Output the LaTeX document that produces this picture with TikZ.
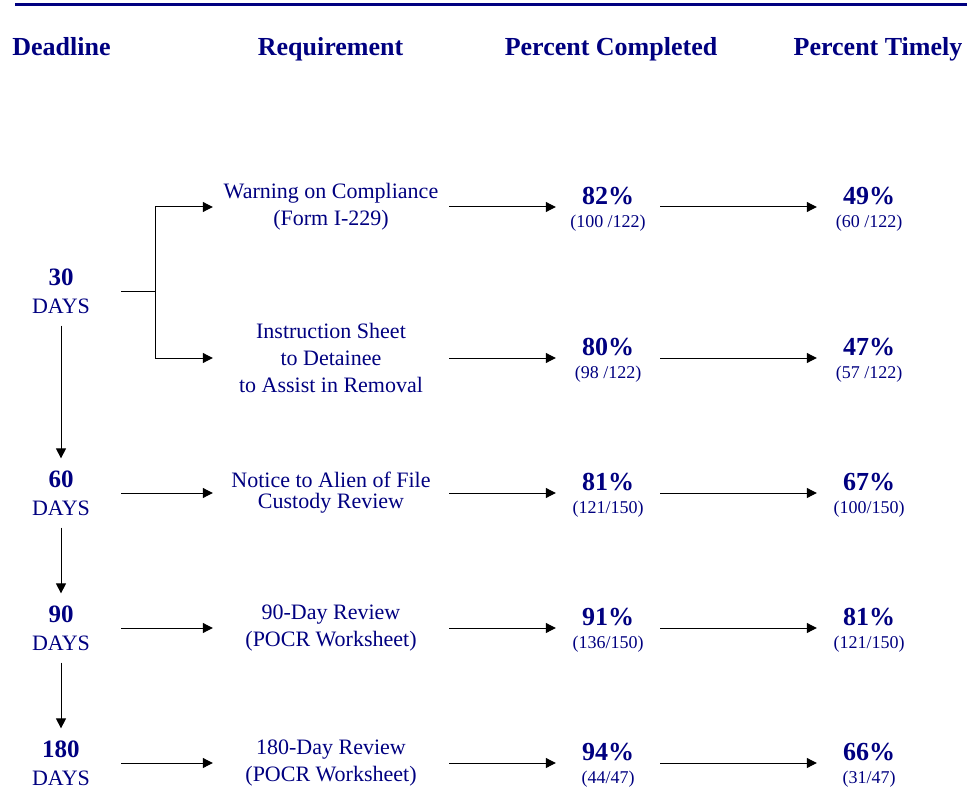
\documentclass[tikz,border=0pt]{standalone}
\usepackage{fontspec}
\setmainfont{Liberation Serif}
\usetikzlibrary{arrows.meta}
\definecolor{navytext}{RGB}{0,0,128}
\newcommand{\bignum}[1]{{\fontsize{25}{28}\selectfont\bfseries #1}}
\newcommand{\bigpct}[1]{{\fontsize{26}{28}\selectfont\bfseries #1}}
\tikzset{
    hdr/.style={text=navytext, anchor=base, font=\fontsize{26}{30}\selectfont\bfseries},
    deadline/.style={text=navytext, align=center, minimum width=120pt, inner xsep=0pt, inner ysep=12pt, font=\fontsize{22}{28}\selectfont},
    req/.style={text=navytext, align=center, minimum width=236pt, inner sep=0pt, font=\fontsize{22}{27}\selectfont},
    pct/.style={text=navytext, align=center, minimum width=104pt, inner sep=0pt, font=\fontsize{18}{23}\selectfont},
    flow/.style={-{Triangle[length=10pt, width=10pt]}, black, line width=1pt},
}
\begin{document}
\begin{tikzpicture}[x=1pt, y=-1pt]
    \useasboundingbox (0,0) rectangle (974,794);
    \draw[navytext, line width=3pt] (15,5) -- (967,5);

    % column heads
    \node[hdr] (hdead) at (61.5,56) {Deadline};
    \node[hdr] (hreq) at (330.5,56) {Requirement};
    \node[hdr] (hdone) at (611,56) {Percent Completed};
    \node[hdr] (htime) at (878,56) {Percent Timely};

    % deadlines
    \node[deadline] (d30) at (61,291) {\bignum{30}\\DAYS};
    \node[deadline] (d60) at (61,493) {\bignum{60}\\DAYS};
    \node[deadline] (d90) at (61,628) {\bignum{90}\\DAYS};
    \node[deadline] (d180) at (61,763) {\bignum{180}\\DAYS};

    % requirements
    \node[req] (rw) at (331,207) {Warning on Compliance\\(Form I-229)};
    \node[req] (ri) at (331,358) {Instruction Sheet\\to Detainee\\to Assist in Removal};
    \node[req] (r60) at (331,493) {Notice to Alien of File\\[-6pt]Custody Review};
    \node[req] (r90) at (331,628) {90-Day Review\\(POCR Worksheet)};
    \node[req] (r180) at (331,763) {180-Day Review\\(POCR Worksheet)};

    % percent completed
    \node[pct] (cw) at (608,209) {\bigpct{82\%}\\(100 /122)};
    \node[pct] (ci) at (608,360) {\bigpct{80\%}\\(98 /122)};
    \node[pct] (c60) at (608,495) {\bigpct{81\%}\\(121/150)};
    \node[pct] (c90) at (608,630) {\bigpct{91\%}\\(136/150)};
    \node[pct] (c180) at (608,765) {\bigpct{94\%}\\(44/47)};

    % percent timely
    \node[pct] (tw) at (869,209) {\bigpct{49\%}\\(60 /122)};
    \node[pct] (ti) at (869,360) {\bigpct{47\%}\\(57 /122)};
    \node[pct] (t60) at (869,495) {\bigpct{67\%}\\(100/150)};
    \node[pct] (t90) at (869,630) {\bigpct{81\%}\\(121/150)};
    \node[pct] (t180) at (869,765) {\bigpct{66\%}\\(31/47)};

    % connectors
    \coordinate (fork) at (155,291);
    \draw[line width=1pt] (d30.east) -- (fork);
    \draw[flow] (fork) |- (rw.west);
    \draw[flow] (fork) |- (ri.west);
    \foreach \a/\b in {30/60, 60/90, 90/180} {
        \draw[flow] (d\a) -- (d\b);
    }
    \foreach \r in {60, 90, 180} {
        \draw[flow] (d\r.east) -- (r\r.west);
    }
    \foreach \r in {w, i, 60, 90, 180} {
        \draw[flow] (r\r.east) -- (c\r.west |- r\r.east);
        \draw[flow] (c\r.east |- r\r.east) -- (t\r.west |- r\r.east);
    }
\end{tikzpicture}
\end{document}
